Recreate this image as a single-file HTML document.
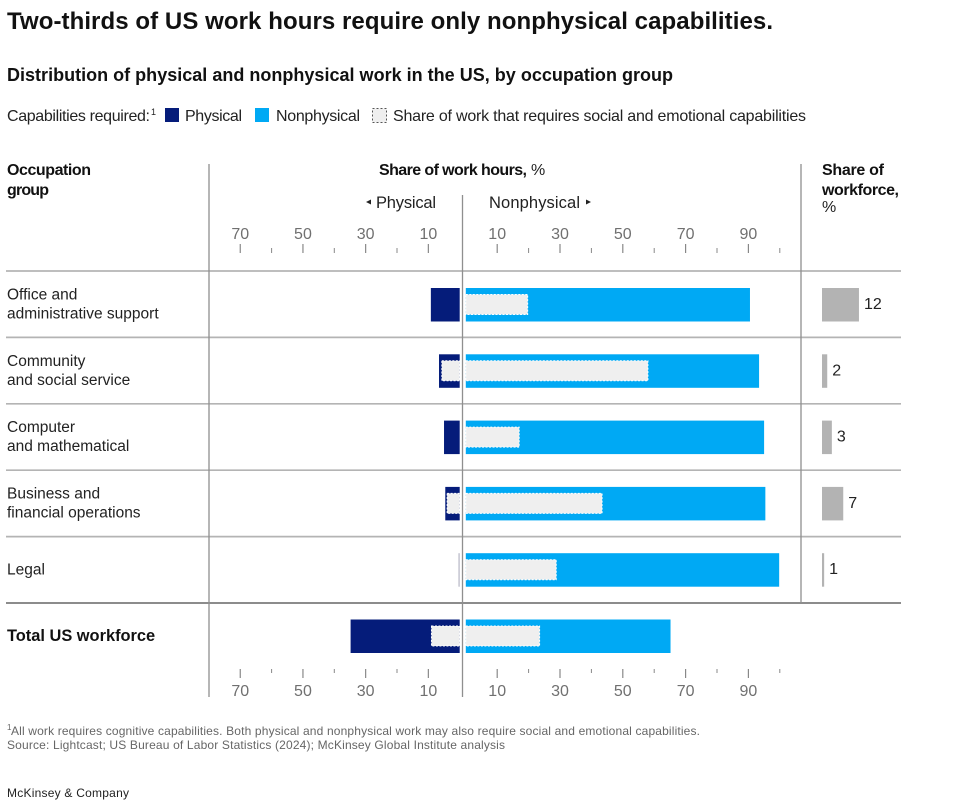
<!DOCTYPE html>
<html lang="en">
<head>
<meta charset="utf-8">
<title>Two-thirds of US work hours require only nonphysical capabilities.</title>
<style>
html,body{margin:0;padding:0;background:#fff;}
svg{display:block;font-family:"Liberation Sans",sans-serif;}
text{fill:#222;}
.b{font-weight:700;fill:#111;}
.tick{fill:#707070;font-size:16px;text-anchor:middle;}
.foot{fill:#666;font-size:12px;}
</style>
</head>
<body>
<svg id="chart" width="954" height="802" viewBox="0 0 954 802" xmlns="http://www.w3.org/2000/svg">
  <text class="b" x="7" y="29" font-size="24" textLength="766">Two-thirds of US work hours require only nonphysical capabilities.</text>
  <text class="b" x="7" y="81" font-size="18" textLength="666">Distribution of physical and nonphysical work in the US, by occupation group</text>

  <g>
    <text x="7" y="121" font-size="16" textLength="143">Capabilities required:</text>
    <text x="151" y="115" font-size="9">1</text>
    <rect x="165" y="108" width="14" height="14" fill="#051c7a"/>
    <text x="185" y="121" font-size="16" textLength="57">Physical</text>
    <rect x="255" y="108" width="14" height="14" fill="#00a9f4"/>
    <text x="276" y="121" font-size="16" textLength="84">Nonphysical</text>
    <rect x="372.5" y="108.5" width="14" height="14" fill="#efefef" stroke="#555" stroke-width="1" stroke-dasharray="2 2"/>
    <text x="393" y="121" font-size="16" textLength="413">Share of work that requires social and emotional capabilities</text>
  </g>

  <g>
    <text class="b" x="7" y="175" font-size="16" textLength="84">Occupation</text>
    <text class="b" x="7" y="195" font-size="16" textLength="42">group</text>
    <text class="b" x="379" y="175" font-size="16" textLength="148">Share of work hours,</text>
    <text x="531" y="175" font-size="16" textLength="16">%</text>
    <text class="b" x="822" y="175" font-size="16" textLength="62">Share of</text>
    <text class="b" x="822" y="195" font-size="16" textLength="77">workforce,</text>
    <text x="822" y="212" font-size="16" textLength="15">%</text>
    <polygon points="366,202 371,199.500 371,204.500" fill="#222"/>
    <text x="376" y="208" font-size="16.500" textLength="60">Physical</text>
    <text x="489" y="208" font-size="16.500" textLength="91">Nonphysical</text>
    <polygon points="591,202 586,199.500 586,204.500" fill="#222"/>
  </g>

  <g id="rules"></g>
  <g id="axes"></g>
  <g id="rows"></g>
  <g id="dividers"></g>

  <g>
    <text class="foot" x="7" y="730" font-size="8" style="font-size:8px">1</text>
    <text class="foot" x="11" y="735" textLength="689">All work requires cognitive capabilities. Both physical and nonphysical work may also require social and emotional capabilities.</text>
    <text class="foot" x="7" y="749" textLength="498">Source: Lightcast; US Bureau of Labor Statistics (2024); McKinsey Global Institute analysis</text>
    <text x="7" y="797" font-size="12" textLength="122" fill="#111">McKinsey &amp; Company</text>
  </g>
</svg>
<script>
const categoriesLine1 = ["Office and", "Community", "Computer", "Business and", "Legal", "Total US workforce"];
const categoriesLine2 = ["administrative support", "and social service", "and mathematical", "financial operations", "", ""];
const physical = [9.2, 6.6, 5, 4.6, 0.4, 34.8];
const physicalSocial = [0, 5.7, 0, 4, 0, 9];
const nonphysical = [90.5, 93.4, 95, 95.4, 99.8, 65.2];
const nonphysicalSocial = [19.7, 58, 17, 43.4, 28.8, 23.5];
const workforce = [12, 2, 3, 7, 1, null];
const workforceBarValues = [12, 1.7, 3.2, 6.9, 0.7, null];
const leftTicks = [70, 60, 50, 40, 30, 20, 10];
const rightTicks = [10, 20, 30, 40, 50, 60, 70, 80, 90, 100];

const NS = "http://www.w3.org/2000/svg";
const xLeft = v => 459.7 - v * 3.135;
const xRight = v => 465.8 + v * 3.14;
const wWidth = v => v * 3.08;
const rowTop = i => 288 + i * 66.3;
const svg = document.getElementById("chart");

function make(tag, parent, props, text) {
  const el = document.createElementNS(NS, tag);
  for (const k in props) el.setAttribute(k, props[k]);
  if (text !== undefined) el.textContent = text;
  parent.appendChild(el);
  return el;
}

const rules = document.getElementById("rules");
for (let i = 0; i <= 5; i++) {
  const y = 271 + i * 66.4;
  const line = make("line", rules, {x1: 6, x2: 901, y1: y, y2: y, stroke: i === 5 ? "#8c8c8c" : "#b4b4b4", "stroke-width": i === 5 ? 2 : 1.700});
  
  
}

const axes = document.getElementById("axes");
function drawTicks(values, scale, top, labelY, down) {
  values.forEach(v => {
    const major = v % 20 === 10;
    const x = scale(v);
    let y1, y2;
    if (down) { y1 = top; y2 = top + (major ? 9 : 4); }
    else { y1 = top + (major ? 0 : 4); y2 = top + 9; }
    const t = make("line", axes, {x1: x, x2: x, y1: y1, y2: y2, stroke: "#888", "stroke-width": major ? 1.2 : 1});
    
    
    if (major) {
      const lbl = make("text", axes, {class: "tick", x: x, y: labelY}, String(v));
      
      
    }
  });
}
drawTicks(leftTicks, xLeft, 244, 239, false);
drawTicks(rightTicks, xRight, 244, 239, false);
drawTicks(leftTicks, xLeft, 669, 696, true);
drawTicks(rightTicks, xRight, 669, 696, true);

const rows = document.getElementById("rows");
function socialRect(x, y, w) {
  const r = make("rect", rows, {x: x, y: y + 6.5, width: w, height: 20, fill: "#efefef", stroke: "#fff", "stroke-width": 1, "stroke-dasharray": "2 1.500"});
  
  
}
categoriesLine1.forEach((name, i) => {
  const top = rowTop(i);
  const bold = i === 5;
  const single = categoriesLine2[i] === "";
  const l1 = make("text", rows, {x: 7, y: single ? top + 21.500 : top + 11.500, "font-size": bold ? 16.400 : 15.500, class: bold ? "b" : ""}, name);
  
  
  if (!single) {
    const l2 = make("text", rows, {x: 7, y: top + 30.500, "font-size": 15.500}, categoriesLine2[i]);
    
    
  }

  const thin = physical[i] < 1;
  const p = make("rect", rows, {x: xLeft(physical[i]), y: top, width: xLeft(0) - xLeft(physical[i]), height: 33.500, fill: thin ? "#b8b8c8" : "#051c7a"});
  
  
  if (physicalSocial[i] > 0) socialRect(xLeft(physicalSocial[i]), top, xLeft(0) - xLeft(physicalSocial[i]));

  const n = make("rect", rows, {x: xRight(0), y: top, width: xRight(nonphysical[i]) - xRight(0), height: 33.500, fill: "#00a9f4"});
  
  
  socialRect(xRight(0), top, xRight(nonphysicalSocial[i]) - xRight(0));

  if (workforce[i] !== null) {
    const w = make("rect", rows, {x: 822, y: top, width: wWidth(workforceBarValues[i]), height: 33.500, fill: "#b3b3b3"});
    
    
    const v = make("text", rows, {x: 822 + wWidth(workforceBarValues[i]) + 5, y: top + 21, "font-size": 16}, String(workforce[i]));
    
    
  }
});

const dividers = document.getElementById("dividers");
[[209, 164, 697], [462.5, 195, 697], [801, 164, 603]].forEach(d => {
  const line = make("line", dividers, {x1: d[0], x2: d[0], y1: d[1], y2: d[2], stroke: "#8f8f8f", "stroke-width": 1.300});
  
  
});
</script>
</body>
</html>
